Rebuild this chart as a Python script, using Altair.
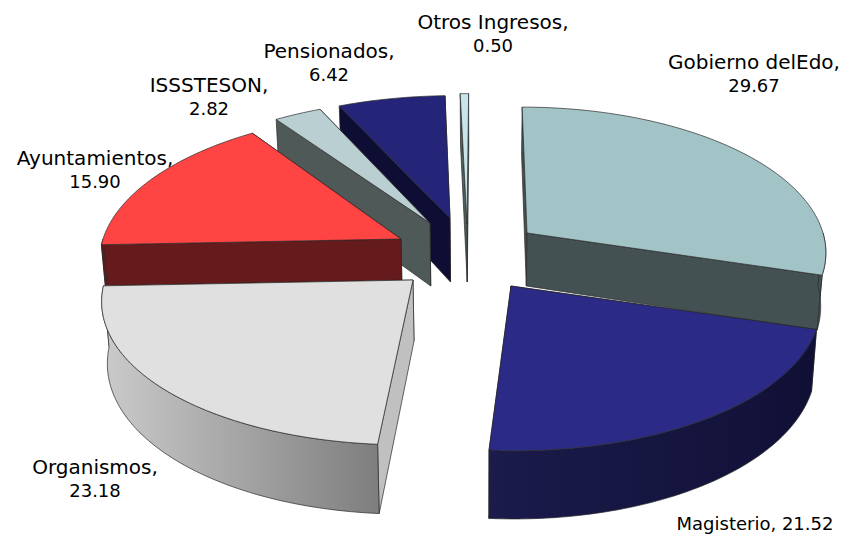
import math
import altair as alt
import pandas as pd

# ---- data
names = ["Gobierno delEdo", "Magisterio", "Organismos", "Ayuntamientos", "ISSSTESON", "Pensionados", "Otros Ingresos"]
shares = [29.67, 21.52, 23.18, 15.90, 2.82, 6.42, 0.50]
value_labels = ["29.67", "21.52", "23.18", "15.90", "2.82", "6.42", "0.50"]

# ---- layout of the exploded 3D pie (per slice)
apex_x = [527, 511, 413, 401, 430, 450, 467]
apex_y = [233, 286, 280, 239, 223, 218, 224]
radius = [296, 307, 308, 298, 303, 300, 300]
tilt = [141, 145, 145, 142, 139, 137, 146]
depth = [53, 60, 61, 60, 63, 64, 58]
paint_order = [3, 6, 5, 4, 2, 1, 0]
VX, K, SHRINK = 482.0, 0.12, 0.985

top_col = ["#A2C4C6", "#2B2A86", "#E0E0E0", "#FF4444", "#BACFD2", "#242478", "#C8E6EA"]
wall_col = ["#445152", "#12123C", "#C0C0C0", "#651B1B", "#4F5957", "#0E0E34", "#50605F"]


def grad(a, b):
    return alt.LinearGradient(
        gradient="linear", x1=0, x2=1, y1=0, y2=0,
        stops=[alt.GradientStop(color=a, offset=0), alt.GradientStop(color=b, offset=1)],
    )


outer_fill = {1: grad("#1B1B4C", "#101036"), 2: grad("#CBCBCB", "#7E7E7E")}

xs = alt.Scale(domain=[8, 842], nice=False, zero=False)
ys = alt.Scale(domain=[530, 8], nice=False, zero=False)


def project(i, phi, bottom=False):
    z = math.cos(phi)
    s = 1 / (1 + K * z)
    x = VX + (apex_x[i] - VX + radius[i] * math.sin(phi)) * s
    y = apex_y[i] - tilt[i] * z * s
    if bottom:
        x = VX + (x - VX) * SHRINK
        y += depth[i] * s
    return x, y


def apex(i, bottom=False):
    x, y = float(apex_x[i]), float(apex_y[i])
    if bottom:
        x = VX + (x - VX) * SHRINK
        y += depth[i]
    return x, y


def face(points, fill):
    df = pd.DataFrame({"x": [p[0] for p in points], "y": [p[1] for p in points], "i": list(range(len(points)))})
    return alt.Chart(df).mark_line(
        interpolate="linear-closed", fill=fill, stroke="#2a2a2a", strokeWidth=0.7, clip=False
    ).encode(
        x=alt.X("x:Q", scale=xs, axis=None),
        y=alt.Y("y:Q", scale=ys, axis=None),
        order=alt.Order("i:Q"),
    )


total = sum(shares)
starts, acc = [], 0.0
for v in shares:
    starts.append(acc)
    acc += v

layers = []
for i in sorted(range(len(shares)), key=lambda n: paint_order[n]):
    a0 = starts[i] / total * 2 * math.pi
    a1 = (starts[i] + shares[i]) / total * 2 * math.pi
    n = max(3, int(shares[i] * 3))
    phis = [a0 + (a1 - a0) * j / n for j in range(n + 1)]
    top_arc = [project(i, p) for p in phis]
    start_wall = ([apex(i), top_arc[0], project(i, a0, True), apex(i, True)], math.cos(a0))
    end_wall = ([apex(i), top_arc[-1], project(i, a1, True), apex(i, True)], math.cos(a1))
    # the radial wall that reaches further back is painted first
    for pts, _ in sorted([start_wall, end_wall], key=lambda w: -w[1]):
        layers.append(face(pts, wall_col[i]))
    # only the part of the rim that faces the viewer is drawn
    lo, hi = max(a0, math.pi / 2), min(a1, 3 * math.pi / 2)
    if hi > lo:
        rim = [lo + (hi - lo) * j / n for j in range(n + 1)]
        layers.append(face([project(i, p) for p in rim] + [project(i, p, True) for p in rim[::-1]],
                           outer_fill.get(i, wall_col[i])))
    layers.append(face([apex(i)] + top_arc, top_col[i]))

# ---- labels
label_x = [754, 755, 95, 95, 209, 329, 493]
label_y = [63, 525, 468, 159, 86, 52, 23]
rows = []
for i, nm in enumerate(names):
    if nm == "Magisterio":
        rows.append({"x": label_x[i], "y": label_y[i], "t": f"{nm}, {value_labels[i]}", "s": 18})
    else:
        rows.append({"x": label_x[i], "y": label_y[i], "t": f"{nm},", "s": 20})
        rows.append({"x": label_x[i], "y": label_y[i] + 24, "t": value_labels[i], "s": 18})

text = alt.Chart(pd.DataFrame(rows)).mark_text(
    font="DejaVu Sans", color="#000000", align="center", baseline="middle"
).encode(
    x=alt.X("x:Q", scale=xs, axis=None),
    y=alt.Y("y:Q", scale=ys, axis=None),
    text="t:N",
    size=alt.Size("s:Q", scale=None, legend=None),
)

chart = alt.layer(*layers, text).properties(
    width=834, height=522,
    padding={"left": 0, "top": 0, "right": 0, "bottom": 8},
    background="white",
).configure_view(stroke=None)

chart.save("out.html", embed_options={"renderer": "svg", "actions": False})
